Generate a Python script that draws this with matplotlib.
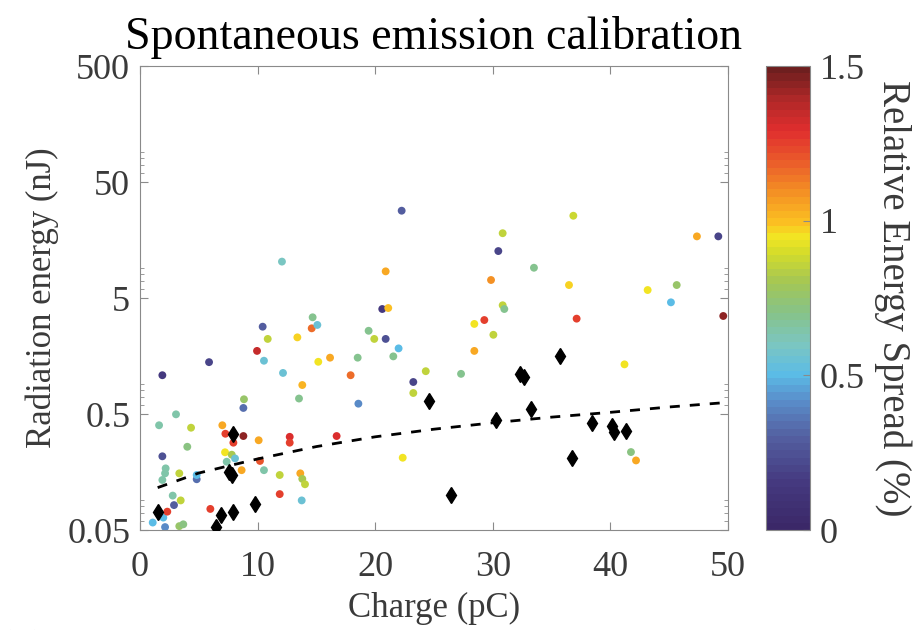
import numpy as np
import matplotlib
matplotlib.use('Agg')
from matplotlib import pyplot as plt
from matplotlib.colors import LinearSegmentedColormap
from matplotlib.ticker import LogLocator, FixedLocator, FixedFormatter, NullFormatter

plt.rcParams['font.family'] = ['Liberation Serif', 'DejaVu Serif']

# coloured shots: charge (pC), radiation energy (nJ), relative energy spread (%)
charge = [1.08, 1.98, 2.13, 2.32, 2.89, 2.78, 3.46, 3.34, 3.68, 1.9,
          2.13, 2.18, 1.9, 1.62, 3.06, 4.34, 4.02, 3.34, 4.82, 4.82,
          1.9, 5.87, 5.98, 7.0, 7.26, 7.94, 7.23, 7.8, 7.37, 8.08,
          8.64, 8.79, 8.84, 8.79, 9.95, 10.43, 10.54, 10.86, 10.09, 10.2,
          10.54, 11.88, 11.88, 12.73, 12.73, 12.16, 13.38, 13.8, 13.52, 13.63,
          13.8, 14.03, 13.75, 14.68, 14.6, 15.08, 15.16, 16.16, 16.72, 17.91,
          18.57, 18.51, 19.44, 19.92, 21.54, 21.99, 20.89, 20.6, 21.11, 22.34,
          23.24, 24.3, 23.24, 29.85, 36.48, 43.17, 45.64, 45.15, 49.6, 30.84,
          30.98, 29.28, 28.43, 30.05, 37.13, 28.43, 27.3, 41.2, 41.75, 42.18,
          22.25, 12.07, 20.89, 36.85, 30.84, 30.47, 33.5, 47.36, 49.18]
energy = [0.058, 0.064, 0.053, 0.072, 0.082, 0.099, 0.090, 0.054, 0.056, 0.135,
          0.154, 0.170, 0.216, 0.40, 0.497, 0.381, 0.261, 0.154, 0.137, 0.149,
          1.08, 1.40, 0.076, 0.40, 0.338, 0.283, 0.234, 0.223, 0.194, 0.207,
          0.164, 0.323, 0.67, 0.564, 1.75, 2.83, 1.44, 2.22, 0.297, 0.197,
          0.164, 0.149, 0.102, 0.318, 0.283, 1.13, 2.29, 0.889, 0.68, 0.154,
          0.138, 0.124, 0.090, 3.41, 2.74, 2.93, 1.41, 1.53, 0.323, 1.08,
          0.614, 1.53, 2.61, 2.22, 1.57, 1.84, 2.22, 4.02, 4.10, 0.21,
          0.944, 1.17, 0.759, 7.15, 6.47, 5.86, 6.47, 4.59, 3.50, 4.33,
          4.02, 3.23, 2.99, 2.41, 3.32, 1.75, 1.11, 1.34, 0.235, 0.199,
          28.3, 10.3, 8.49, 25.6, 18.1, 12.7, 9.12, 17.0, 17.0]
spread = [0.5, 0.5, 0.4, 1.25, 0.3, 0.65, 0.85, 0.75, 0.72, 0.65,
          0.65, 0.65, 0.25, 0.65, 0.65, 0.85, 0.72, 0.85, 0.35, 0.5,
          0.15, 0.2, 1.25, 1.05, 1.25, 1.25, 0.95, 0.8, 0.65, 0.55,
          1.05, 1.45, 0.75, 0.35, 1.35, 0.3, 0.55, 0.85, 1.05, 1.2,
          0.65, 0.85, 1.25, 1.3, 1.25, 0.55, 0.97, 1.02, 0.68, 1.05,
          0.8, 0.85, 0.55, 0.7, 1.15, 0.55, 0.95, 1.05, 1.3, 1.15,
          0.4, 0.68, 0.68, 0.85, 0.68, 0.5, 0.25, 0.15, 1.0, 0.95,
          0.2, 0.85, 0.85, 1.1, 0.97, 0.95, 0.75, 0.5, 1.45, 0.85,
          0.7, 1.25, 0.95, 0.85, 1.25, 1.05, 0.68, 0.95, 0.72, 1.05,
          0.3, 0.6, 1.05, 0.88, 0.85, 0.2, 0.7, 1.05, 0.2]

# black diamonds
d_charge = [1.5, 6.49, 6.89, 7.94, 9.78, 7.6, 7.8, 7.94, 24.6, 26.45,
            30.25, 33.25, 32.34, 32.68, 35.69, 38.46, 36.7, 40.1, 40.3, 41.3]
d_energy = [0.072, 0.053, 0.068, 0.071, 0.084, 0.157, 0.149, 0.334, 0.648, 0.101,
            0.444, 0.555, 1.11, 1.05, 1.57, 0.42, 0.21, 0.394, 0.352, 0.359]

# dashed fit line
fit_x = [1.5, 5, 10, 15, 20, 25, 30, 35, 40, 45, 50]
fit_y = [0.116, 0.155, 0.205, 0.262, 0.318, 0.37, 0.42, 0.47, 0.517, 0.575, 0.63]

cmap_vals = [0.0, 0.15, 0.3, 0.42, 0.5, 0.6, 0.7, 0.8, 0.9, 0.95, 1.0, 1.1, 1.2, 1.3, 1.4, 1.5]
cmap_cols = ['#3b2868', '#453a80', '#5461a2', '#5a90cc', '#5bbce6', '#7cc6c0', '#86c38a',
             '#a3c655', '#d5dc2a', '#f2e623', '#fbbf22', '#f48f24', '#ea5a2b', '#e02e2e',
             '#b02828', '#6e1f1f']
cmap = LinearSegmentedColormap.from_list('spread', [(v / 1.5, c) for v, c in zip(cmap_vals, cmap_cols)], N=64)

fig = plt.figure(figsize=(9.23, 6.30), dpi=100)
ax = fig.add_axes([0.1517, 0.1587, 0.637, 0.7365])
cax = fig.add_axes([0.8299, 0.1587, 0.0477, 0.7365])

sc = ax.scatter(charge, energy, c=spread, cmap=cmap, vmin=0, vmax=1.5, s=32, linewidths=0, zorder=3)
ax.plot(d_charge, d_energy, linestyle='none', marker='d', color='black', markersize=8.5, zorder=4)
ax.plot(fit_x, fit_y, color='black', linestyle=(0, (3.6, 3.6)), linewidth=2, zorder=5)

ax.set_yscale('log')
ax.set_xlim(0, 50)
ax.set_ylim(0.05, 500)
ax.yaxis.set_major_locator(FixedLocator([0.05, 0.5, 5, 50, 500]))
ax.yaxis.set_major_formatter(FixedFormatter(['0.05', '0.5', '5', '50', '500']))
ax.yaxis.set_minor_locator(LogLocator(base=10, subs=(6, 7, 8, 9)))
ax.yaxis.set_minor_formatter(NullFormatter())
ax.set_xticks([0, 10, 20, 30, 40, 50])

gray = '#8a8a8a'
txt = '#3a3a3a'
for sp in ax.spines.values():
    sp.set_color(gray)
ax.tick_params(which='both', direction='in', top=True, right=True, color=gray, labelcolor=txt, labelsize=26)
ax.tick_params(which='major', length=6)
ax.tick_params(which='minor', length=3)
ax.tick_params(axis='x', pad=15)
ax.tick_params(axis='y', pad=7)

ax.set_xlabel('Charge (pC)', fontsize=25, color=txt, labelpad=6)
ax.set_ylabel('Radiation energy (nJ)', fontsize=25, color=txt, labelpad=6)
ax.set_title('Spontaneous emission calibration', fontsize=33, color='black', pad=12)

cb = fig.colorbar(sc, cax=cax)
cb.set_ticks([0, 0.5, 1, 1.5])
cb.set_ticklabels(['0', '0.5', '1', '1.5'])
cb.outline.set_edgecolor(gray)
cax.tick_params(direction='in', color=gray, labelcolor=txt, labelsize=26, length=5, pad=7)
cb.set_label('Relative Energy Spread (%)', fontsize=28, color=txt, rotation=270, labelpad=34)

fig.text(0.002, -0.02, '(iii)', fontsize=20, color=txt, va='center')

fig.savefig('out.png', dpi=100)
